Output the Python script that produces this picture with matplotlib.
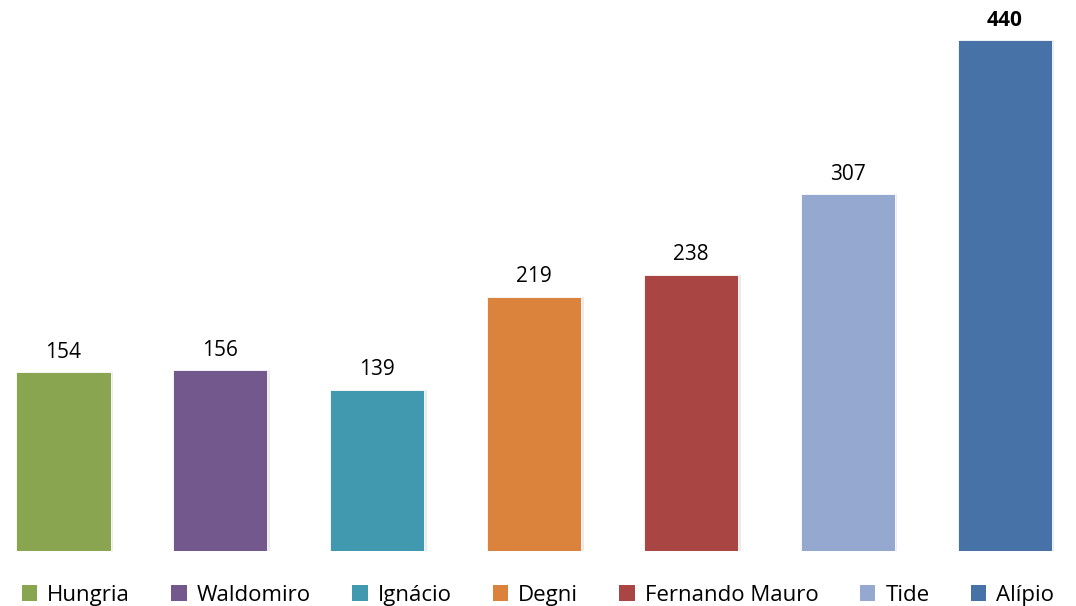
import matplotlib.pyplot as plt
from matplotlib.patches import Patch

names = ["Hungria", "Waldomiro", "Ignácio", "Degni", "Fernando Mauro", "Tide", "Alípio"]
values = [154, 156, 139, 219, 238, 307, 440]
colors = ["#8AA54F", "#72588D", "#4199AF", "#DB833D", "#A94543", "#95A9D0", "#4672A7"]

plt.rcParams["font.family"] = ["Open Sans", "DejaVu Sans"]

fig = plt.figure(figsize=(10.76, 6.06), dpi=100)
ax = fig.add_axes([0, 55 / 606, 1, 551 / 606])

x = list(range(len(names)))
# soft shadow on the right of the bars
ax.bar([i + 0.015 for i in x], values, width=0.6, color="#ebebeb", zorder=1)
ax.bar(x, values, width=0.6, color=colors, edgecolor="white", linewidth=0.6, zorder=2)

for i, v in enumerate(values):
    weight = "bold" if v == max(values) else "normal"
    ax.text(i, v + 8, str(v), ha="center", va="bottom", fontsize=15,
            fontweight=weight, color="black")

ax.set_xlim(-63.5 / 156.9, (1076 - 63.5) / 156.9)
ax.set_ylim(0, 551 / 1.1614)
ax.axis("off")

handles = [Patch(facecolor=c, edgecolor="none") for c in colors]
fig.legend(handles, names, loc="lower center", bbox_to_anchor=(0.5, -0.033), ncol=7,
           frameon=False, fontsize=16, handlelength=0.7, handleheight=0.7,
           handletextpad=0.45, columnspacing=1.85)

fig.savefig("out.png", dpi=100)
